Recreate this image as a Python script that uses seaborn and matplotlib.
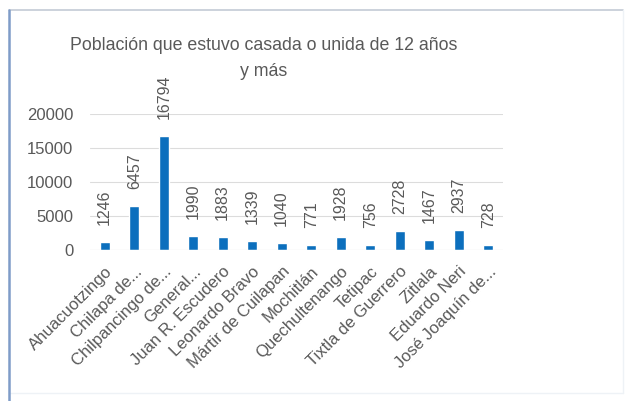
import pandas as pd
import seaborn as sns
import matplotlib.pyplot as plt
from matplotlib.lines import Line2D

municipios = ["Ahuacuotzingo", "Chilapa de...", "Chilpancingo de...", "General...",
              "Juan R. Escudero", "Leonardo Bravo", "Mártir de Cuilapan", "Mochitlán",
              "Quechultenango", "Tetipac", "Tixtla de Guerrero", "Zitlala",
              "Eduardo Neri", "José Joaquín de..."]
poblacion = [1246, 6457, 16794, 1990, 1883, 1339, 1040, 771, 1928, 756, 2728, 1467, 2937, 728]
ticks_y = [0, 5000, 10000, 15000, 20000]
titulo = ["Población que estuvo casada o unida de 12 años", "y más"]

df = pd.DataFrame({"municipio": municipios, "poblacion": poblacion})

sns.set_style("white")
plt.rcParams['font.family'] = ['Liberation Sans', 'DejaVu Sans']
gris = "#595959"

W, H = 634, 401
fig = plt.figure(figsize=(W / 100, H / 100), dpi=100)

# marco del grafico
def linea(x0, y0, x1, y1, color, lw):
    fig.lines.append(Line2D([x0 / W, x1 / W], [1 - y0 / H, 1 - y1 / H],
                            transform=fig.transFigure, color=color, linewidth=lw))

linea(9, 10, 623, 10, "#c3cbd6", 1.2)
linea(623, 10, 623, 393, "#eef2f6", 1.0)
linea(9, 393, 623, 393, "#eef2f6", 1.0)
linea(9, 10, 9, 401, "#7f9cc8", 1.8)

ax = fig.add_axes([90 / W, 1 - 250 / H, 413 / W, 136 / H])
sns.barplot(data=df, x="municipio", y="poblacion", color="#0c6fbd", width=0.34,
            saturation=1, ax=ax)

ax.set_ylim(0, 20000)
ax.set_xlim(-0.5, len(municipios) - 0.5)
ax.set_yticks(ticks_y)
ax.yaxis.grid(True, color="#dcdcdc", linewidth=0.8)
ax.set_axisbelow(True)
for s in ax.spines.values():
    s.set_visible(False)
ax.axhline(0, color="#d9d9d9", linewidth=0.8)
ax.set_xlabel("")
ax.set_ylabel("")
ax.tick_params(axis="y", length=0, labelsize=12, labelcolor=gris, pad=12)
ax.tick_params(axis="x", length=0, labelsize=12, labelcolor=gris, pad=10)
plt.setp(ax.get_xticklabels(), rotation=45, ha="right", rotation_mode="anchor")

for i, v in enumerate(poblacion):
    ax.text(i, v + 2500, str(v), rotation=90, ha="center", va="bottom",
            fontsize=11.5, color=gris)

# titulo en dos renglones
fig.text(264 / W, 1 - 46 / H, titulo[0], ha="center", va="center", fontsize=12.8, color=gris)
fig.text(264 / W, 1 - 72 / H, titulo[1], ha="center", va="center", fontsize=12.8, color=gris)

fig.savefig("out.png", dpi=100)
